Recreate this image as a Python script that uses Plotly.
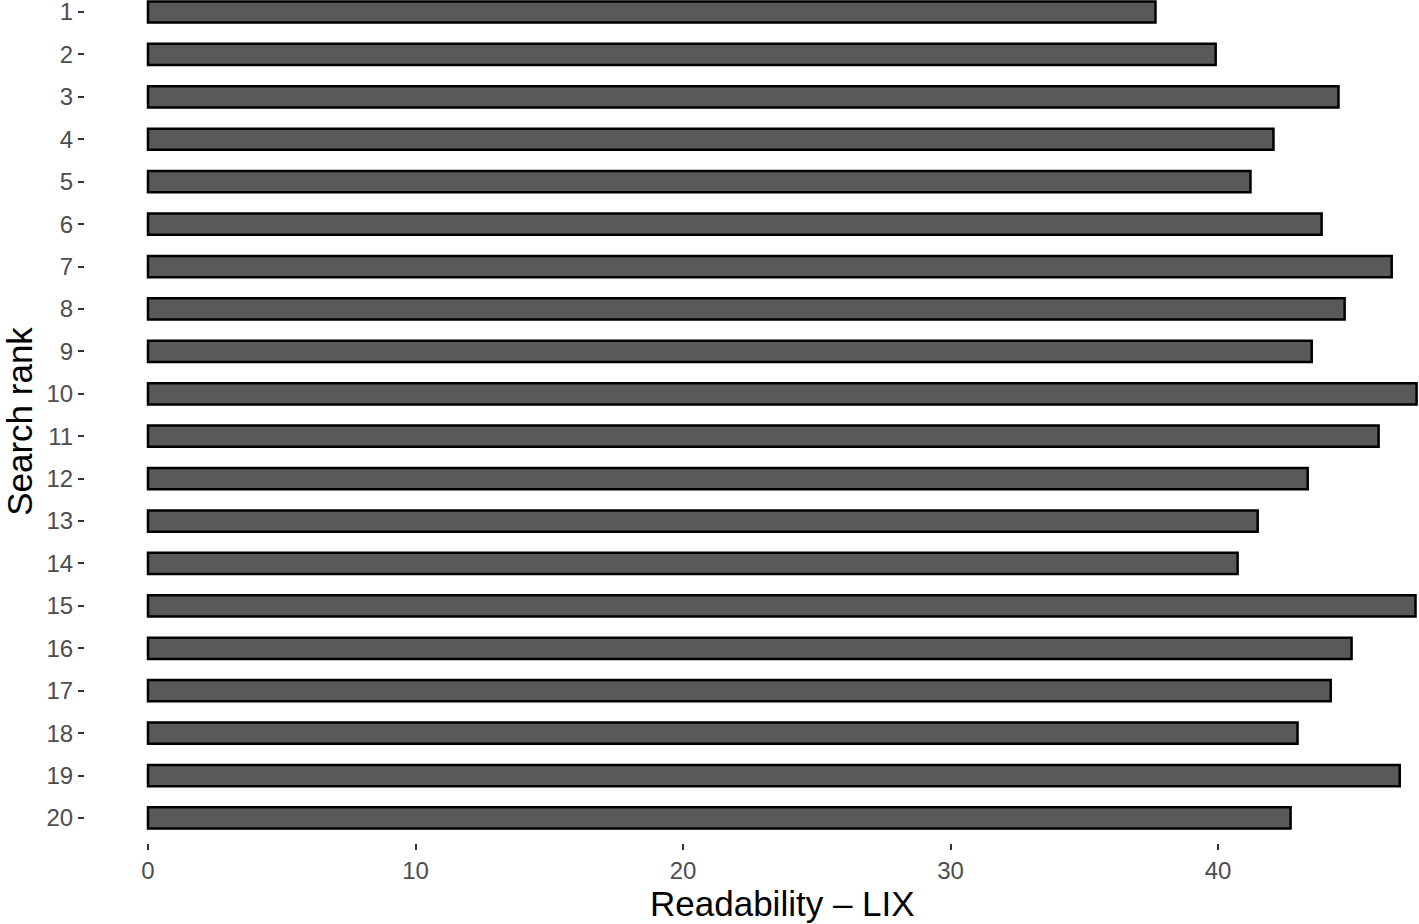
import plotly.graph_objects as go

ranks = [str(i) for i in range(1, 21)]
lix = [37.66, 39.91, 44.50, 42.07, 41.21, 43.87, 46.49, 44.73, 43.50, 47.42,
       46.00, 43.35, 41.48, 40.73, 47.38, 44.99, 44.21, 42.97, 46.79, 42.71]
x_ticks = [0, 10, 20, 30, 40]

fig = go.Figure(go.Bar(
    x=lix, y=ranks, orientation="h", width=0.5,
    marker=dict(color="#595959", line=dict(color="black", width=2.5)),
    cliponaxis=False,
))

font = "Liberation Sans, Arial, Helvetica, sans-serif"
fig.update_layout(
    width=1419, height=924,
    margin=dict(l=85, r=0, t=0, b=81, autoexpand=False),
    plot_bgcolor="white", paper_bgcolor="white",
    showlegend=False,
    font=dict(family=font),
)
fig.update_xaxes(
    range=[-2.355, 47.51], tickvals=x_ticks, ticktext=[str(v) for v in x_ticks],
    showgrid=False, zeroline=False, showline=False, automargin=False,
    ticks="outside", ticklen=6, tickwidth=2, tickcolor="#333333",
    tickfont=dict(size=24, color="#4d4d4d", family=font),
)
fig.update_yaxes(
    type="category", categoryorder="array", categoryarray=ranks,
    range=[19.59, -0.283],
    showgrid=False, zeroline=False, showline=False, automargin=False,
    ticks="outside", ticklen=6, tickwidth=2, tickcolor="#333333",
    tickfont=dict(size=24, color="#4d4d4d", family=font),
    title=dict(text="Search rank", font=dict(size=35, color="black", family=font), standoff=15),
)
# x-axis title centred on the full (cropped) ggplot panel
fig.add_annotation(
    text="Readability – LIX", xref="paper", yref="paper",
    x=0.523, y=-0.0715, xanchor="center", yanchor="middle", showarrow=False,
    font=dict(size=35, color="black", family=font),
)

fig.write_html(
    "out.html",
    config={"displayModeBar": False},
    post_script="document.body.style.margin='0';document.body.style.overflow='hidden';",
)
